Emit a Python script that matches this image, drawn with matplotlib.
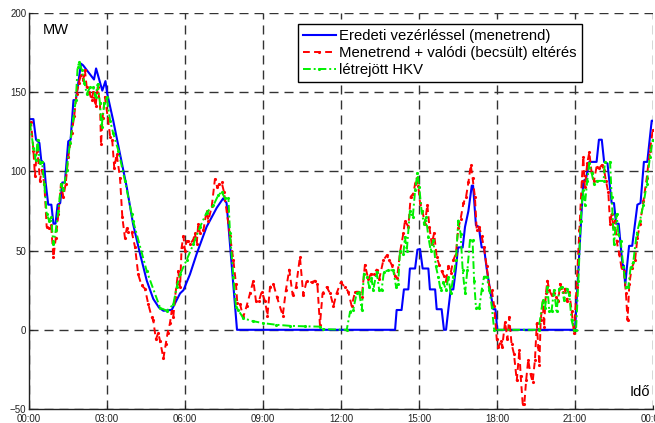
import matplotlib
matplotlib.use("Agg")
import matplotlib.pyplot as plt

# time in hours, power in MW
blue_t = [0, 0.17, 0.27, 0.4, 0.47, 0.58, 0.64, 0.74, 0.86, 0.94, 1.02, 1.1, 1.2, 1.28, 1.38,
          1.51, 1.6, 1.71, 1.8, 2.0, 2.08, 2.5, 2.58, 2.82, 2.94, 3.01, 3.24, 3.5, 3.76, 4.0,
          4.27, 4.53, 4.78, 5.0, 5.17, 5.49, 5.81, 5.94, 6.19, 6.45, 6.83, 7.22, 7.47, 7.6, 8.0,
          14.08, 14.14, 14.33, 14.42, 14.59, 14.65, 14.85, 14.94, 15.04, 15.14, 15.36, 15.42,
          15.62, 15.68, 15.87, 15.96, 16.04, 16.13, 16.22, 16.32, 16.42, 16.5, 16.68, 16.77,
          16.9, 17.03, 17.08, 17.19, 17.3, 17.41, 17.5, 17.6, 17.73, 17.86, 17.94, 18.01,
          21.0, 21.32, 21.42, 21.55, 21.83, 21.92, 22.03, 22.12, 22.25, 22.41, 22.5, 22.58,
          22.68, 22.83, 22.88, 22.93, 23.0, 23.08, 23.2, 23.4, 23.52, 23.65, 23.78, 23.95, 24.0]
blue_v = [133, 133, 120, 118, 107, 105, 93, 79, 79, 67, 67, 79, 80, 93, 93,
          119, 120, 145, 145, 168, 167, 158, 165, 151, 157, 149, 132, 111, 90, 67,
          48, 31, 19.5, 14, 12, 12.6, 23, 25, 35, 48, 65, 77, 83, 80, 0,
          0, 12.5, 12.5, 25.5, 25.5, 38.7, 38.7, 50.6, 51, 38.7, 38.7, 25.5,
          25.5, 13, 13, 0, 0, 13, 25.5, 25.5, 38.7, 52, 52, 65,
          75, 91, 91, 66, 65, 52, 52, 39, 25.5, 13, 13, 0,
          0, 94, 95, 106, 106, 120, 120, 106, 105, 80, 80, 67,
          67, 40.5, 40.5, 28, 40, 53, 53, 79, 80, 106, 106, 132, 132]

red_t = [0.0, 0.08, 0.17, 0.23, 0.3, 0.36, 0.42, 0.49, 0.59, 0.68, 0.77, 0.85, 0.94, 1.03, 1.13,
         1.23, 1.32, 1.41, 1.51, 1.64, 1.74, 1.83, 1.92, 2.0, 2.09, 2.15, 2.22, 2.32, 2.41, 2.47,
         2.56, 2.64, 2.73, 2.77, 2.83, 2.92, 3.03, 3.12, 3.2, 3.28, 3.37, 3.5, 3.59, 3.69, 3.76,
         3.82, 3.95, 4.08, 4.2, 4.33, 4.46, 4.59, 4.72, 4.78, 4.88, 4.97, 5.04, 5.17, 5.26, 5.33,
         5.42, 5.49, 5.55, 5.62, 5.68, 5.74, 5.81, 5.87, 5.94, 6.0, 6.06, 6.13, 6.19, 6.32, 6.38,
         6.45, 6.51, 6.58, 6.71, 6.83, 6.9, 7.03, 7.15, 7.24, 7.32, 7.41, 7.5, 7.6, 7.73, 7.86,
         7.96, 8.01, 8.12, 8.24, 8.37, 8.5, 8.63, 8.73, 8.84, 8.95, 9.08, 9.17, 9.27, 9.4, 9.53,
         9.76, 9.88, 10.01, 10.14, 10.27, 10.42, 10.55, 10.68, 10.87, 11.0, 11.09, 11.19, 11.29,
         11.45, 11.58, 11.71, 11.83, 11.99, 12.15, 12.28, 12.41, 12.54, 12.67, 12.8, 12.92, 13.05,
         13.14, 13.25, 13.37, 13.47, 13.63, 13.76, 13.86, 13.95, 14.08, 14.16, 14.27, 14.4, 14.46,
         14.59, 14.68, 14.78, 14.85, 14.91, 14.97, 15.04, 15.13, 15.23, 15.32, 15.4, 15.49, 15.58,
         15.68, 15.78, 15.87, 15.96, 16.04, 16.13, 16.22, 16.32, 16.42, 16.51, 16.6, 16.71, 16.81,
         16.9, 16.99, 17.06, 17.15, 17.22, 17.32, 17.41, 17.5, 17.6, 17.71, 17.8, 17.89, 17.99,
         18.05, 18.14, 18.2, 18.31, 18.4, 18.47, 18.56, 18.65, 18.76, 18.86, 18.91, 18.99, 19.05,
         19.12, 19.2, 19.29, 19.37, 19.46, 19.53, 19.59, 19.63, 19.68, 19.76, 19.81, 19.88, 19.94,
         20.01, 20.1, 20.19, 20.27, 20.36, 20.42, 20.53, 20.62, 20.7, 20.78, 20.87, 20.96, 21.06,
         21.17, 21.26, 21.32, 21.38, 21.47, 21.55, 21.64, 21.73, 21.83, 21.93, 22.03, 22.12, 22.19,
         22.28, 22.35, 22.41, 22.47, 22.54, 22.6, 22.7, 22.79, 22.88, 22.96, 23.02, 23.09, 23.18,
         23.31, 23.4, 23.5, 23.63, 23.76, 23.88, 23.99, 24.0]
red_v = [130, 131, 113, 97, 113, 107, 94, 101, 92, 65, 64, 66, 46, 58, 73,
         92, 84, 92, 109, 124, 135, 149, 156, 161, 158, 164, 153, 150, 145, 150,
         141, 153, 143, 117, 134, 147, 134, 122, 120, 102, 111, 96, 71, 58, 64,
         62, 62, 52, 35, 28, 26, 16, 8, 6, -6, -2, -7, -18, -9, -2,
         4, 12, 8, 21, 29, 37, 27, 52, 59, 50, 56, 56, 54, 57, 61,
         54, 67, 61, 63, 75, 69, 78, 95, 90, 92, 93, 87, 75, 59, 44,
         29, 17, 16, 8, 15, 23, 31, 18, 18, 24, 18, 9, 27, 29, 21,
         9, 25, 38, 22, 27, 46, 22, 31, 30, 31, 29, 3, 23,
         27, 23, 15, 23, 30, 27, 24, 15, 24, 24, 21, 41, 32,
         35, 35, 38, 32, 44, 47, 44, 41, 34, 33, 49, 61, 69,
         65, 84, 86, 92, 96, 91, 80, 75, 67, 79, 65, 54, 61,
         46, 41, 37, 34, 31, 40, 36, 44, 48, 64, 70, 80, 84,
         93, 104, 96, 84, 63, 65, 59, 52, 40, 27, 25, 15, -6,
         -11, -7, -11, 5, -6, 8, -9, -15, -32, -13, -29, -47, -47,
         -32, -19, -28, -33, -19, 4, -11, -22, 6, 18, 2, 23, 31,
         25, 22, 23, 21, 18, 29, 24, 26, 18, 24, 12, -2, 27,
         63, 94, 109, 90, 105, 112, 99, 94, 103, 102, 104, 101, 94,
         87, 67, 73, 65, 69, 56, 48, 39, 37, 23, 6, 29, 39,
         44, 58, 67, 81, 96, 113, 126, 126]

green_t = [0, 0.04, 0.17, 0.26, 0.33, 0.42, 0.5, 0.59, 0.68, 0.77, 0.85, 0.94, 1.03, 1.13, 1.23,
           1.32, 1.45, 1.58, 1.71, 1.8, 1.87, 1.94, 2.03, 2.13, 2.22, 2.35, 2.47, 2.56, 2.64, 2.73,
           2.79, 2.9, 2.99, 3.12, 3.24, 3.44, 3.69, 3.95, 4.0, 4.53, 5.04, 5.3, 5.55, 5.68, 5.81,
           6.06, 6.32, 6.58, 6.83, 7.09, 7.28, 7.41, 7.54, 7.67, 7.73, 7.86, 7.96, 8.05, 8.24, 8.6,
           9.01, 9.5, 10.04, 10.6, 11.19, 11.32, 12.22, 12.35, 12.47, 12.6, 12.7, 12.8, 12.88, 12.99,
           13.09, 13.17, 13.24, 13.37, 13.47, 13.56, 13.65, 13.82, 14.01, 14.12, 14.2, 14.27, 14.4,
           14.46, 14.53, 14.65, 14.76, 14.85, 14.94, 15.01, 15.1, 15.19, 15.27, 15.36, 15.45, 15.55,
           15.65, 15.74, 15.83, 15.94, 16.04, 16.13, 16.22, 16.32, 16.42, 16.51, 16.6, 16.68, 16.77,
           16.86, 16.96, 17.06, 17.12, 17.19, 17.32, 17.41, 17.5, 17.6, 17.71, 17.8, 17.89, 19.6,
           19.76, 19.85, 19.94, 20.01, 20.1, 20.19, 20.29, 20.4, 20.49, 20.58, 20.68, 20.78, 20.87,
           20.96, 21.04, 21.13, 21.22, 21.3, 21.38, 21.47, 21.55, 21.64, 21.73, 21.83, 22.1, 22.15,
           22.35, 22.41, 22.5, 22.6, 22.67, 22.76, 22.86, 22.96, 23.05, 23.14, 23.24, 23.37, 23.5,
           23.63, 23.76, 23.88, 23.99, 24.0]
green_v = [130, 130, 115, 107, 120, 105, 106, 92, 73, 69, 71, 54, 63, 75, 92,
           88, 101, 118, 134, 145, 166, 169, 164, 156, 149, 153, 153, 147, 155, 143,
           128, 143, 147, 132, 124, 113, 94, 73, 69, 37, 14, 12, 16, 27, 35,
           44, 54, 65, 74, 78.5, 85, 87, 83, 83, 61, 33.5, 14.6, 12.5, 7.3, 5.5,
           4.2, 3.2, 2.5, 2.2, 2, 0.4, 0, 11.5, 12.5, 23, 24, 12.5, 35.5, 33.5,
           27, 33, 25, 36.6, 25, 25, 36.6, 37.6, 37.6, 27, 29, 50, 48,
           58.6, 50, 75, 71, 88, 99, 90, 75, 67, 71, 58.6, 50, 56.5,
           40, 33.5, 25, 30, 25, 33.5, 23, 33.5, 44, 69, 60.7, 37.6, 23,
           37.6, 56.5, 56.5, 31, 14, 14, 25, 33.5, 33.5, 25, 14.6, 0, 0,
           18.5, 14, 27, 12, 12, 25, 12, 26, 27, 18.5, 26, 22, 6,
           0, 0, 31, 69, 88, 79, 94, 105, 99, 92, 94, 94, 106,
           106, 84, 54, 73, 60.5, 56, 39.5, 27, 27, 39.5, 42.6, 60.5, 69,
           79, 92, 109, 120, 120]

series_labels = ["Eredeti vezérléssel (menetrend)",
                 "Menetrend + valódi (becsült) eltérés",
                 "létrejött HKV"]
x_ticks = [0, 3, 6, 9, 12, 15, 18, 21, 24]
x_tick_labels = ["00:00", "03:00", "06:00", "09:00", "12:00", "15:00", "18:00", "21:00", "00:00"]
y_ticks = [-50, 0, 50, 100, 150, 200]

plt.rcParams['font.family'] = ['Liberation Sans', 'DejaVu Sans']

fig = plt.figure(figsize=(6.55, 4.23), dpi=100)
ax = fig.add_axes([29 / 655, 14 / 423, 624 / 655, 396 / 423])

ax.plot(blue_t, blue_v, color='#0000ff', lw=1.5, label=series_labels[0])
ax.plot(red_t, red_v, color='#ff0000', lw=1.4, ls=(0, (3.5, 2.2)), marker='.', ms=2.5,
        label=series_labels[1])
ax.plot(green_t, green_v, color='#00f000', lw=1.4, ls=(0, (4, 1.5, 1, 1.5)), marker='.', ms=2.5,
        label=series_labels[2])

ax.set_xlim(0, 24)
ax.set_ylim(-50, 200)
ax.set_xticks(x_ticks)
ax.set_xticklabels(x_tick_labels)
ax.set_yticks(y_ticks)
ax.tick_params(direction='in', length=3, labelsize=7, colors='#222222', pad=2)
ax.tick_params(axis='x', pad=3.5)

ax.grid(True, color='#333333', lw=1.0, ls=(0, (6.5, 4.3)))
for s in ['top', 'right']:
    ax.spines[s].set_visible(False)
for s in ['left', 'bottom']:
    ax.spines[s].set_linewidth(1.0)
    ax.spines[s].set_color('#222222')

ax.text(0.022, 0.957, "MW", transform=ax.transAxes, fontsize=10.5, va='center', ha='left')
ax.text(0.995, 0.043, "Idő", transform=ax.transAxes, fontsize=10.5, va='center', ha='right')

leg = ax.legend(loc='upper left', bbox_to_anchor=(0.431, 0.972), borderaxespad=0,
                fontsize=10.7, fancybox=False, framealpha=1, edgecolor='black',
                handlelength=2.2, handletextpad=0.2, labelspacing=0.2, borderpad=0.35)
leg.get_frame().set_linewidth(1.0)

fig.savefig("out.png", dpi=100)
